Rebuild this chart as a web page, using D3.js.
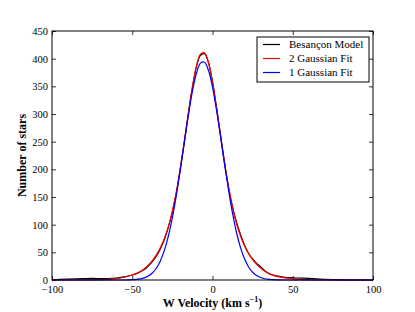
<!DOCTYPE html>
<html>
<head>
<meta charset="utf-8">
<script src="https://cdn.jsdelivr.net/npm/d3@7"></script>
<style>
  body { margin: 0; background: #fff; }
  text { font-family: "Liberation Serif", "DejaVu Serif", serif; }
</style>
</head>
<body>
<div id="chart"></div>
<script>
// values
var velocity = [-100, -95, -90, -85, -80, -75, -70, -65, -60, -55, -50,
  -47.5, -45, -42.5, -40, -37.5, -35, -32.5, -30, -27.5, -25, -22.5, -20,
  -17.5, -15, -12.5, -10, -7.5, -5, -2.5, 0,
  2.5, 5, 7.5, 10, 12.5, 15, 17.5, 20, 22.5, 25, 27.5, 30, 32.5, 35, 37.5, 40,
  45, 50, 55, 60, 65, 70, 75, 80, 85, 90, 95, 100];

var besancon = [0.5, 1, 1.5, 2, 2.5, 3, 2.5, 2.5, 3.5, 5.5, 9,
  11.5, 15, 19, 25, 33, 43, 56, 73, 95, 123, 158, 203,
  251, 302, 348, 385, 406, 409, 393, 358,
  312, 262, 212, 168, 132, 104, 82, 63, 48, 38, 30, 24, 17, 12, 9, 7.5,
  5, 4, 3.5, 3, 2, 1.2, 0.6, 0.2, 0, 0, 0, 0];

var twoGauss = [0, 0, 0, 0, 0.1, 0.2, 0.5, 1.2, 2.5, 5, 9,
  11.5, 15, 20.3, 26.8, 35, 45.3, 58.3, 75, 96.6, 124.4, 159.6, 202.1,
  250.6, 301.4, 348.9, 386.6, 408.3, 410.4, 392.4, 357.4,
  311.3, 260.7, 211.4, 167.6, 130.9, 101.7, 79, 61.3, 47.6, 36.8, 28.3, 21.4, 15.9, 11.7, 8.7, 6.6,
  4, 2.5, 1.3, 0.6, 0.2, 0.1, 0, 0, 0, 0, 0, 0];

var oneGauss = [0, 0, 0, 0, 0, 0, 0, 0, 0, 0, 0.5,
  1, 2, 3.9, 7.1, 12.6, 21.3, 34.5, 53.5, 79.4, 112.8, 153.5, 200,
  249.6, 298.2, 341.1, 373.7, 391.9, 393.6, 378.6, 348.6,
  307.4, 259.5, 209.8, 162.4, 120.4, 85.4, 58.1, 37.8, 23.5, 14, 8, 4.4, 2.3, 1.1, 0.6, 0.3,
  0, 0, 0, 0, 0, 0, 0, 0, 0, 0, 0, 0];

var seriesNames = ["Besan\u00e7on Model", "2 Gaussian Fit", "1 Gaussian Fit"];
var seriesColors = ["#000000", "#ff0000", "#0000ff"];

var xTicks = [-100, -50, 0, 50, 100];
var yTicks = [0, 50, 100, 150, 200, 250, 300, 350, 400, 450];

var svgWidth = 415;
var svgHeight = 312;

var margin = {
  top: 31,
  right: 42,
  bottom: 32,
  left: 52
};

var width = svgWidth - margin.left - margin.right;
var height = svgHeight - margin.top - margin.bottom;

var svg = d3.select("#chart")
  .append("svg")
  .attr("width", svgWidth)
  .attr("height", svgHeight);

var chartGroup = svg.append("g")
  .attr("transform", `translate(${margin.left}, ${margin.top})`);

var xScale = d3.scaleLinear()
  .domain([-100, 100])
  .range([0, width]);

var yScale = d3.scaleLinear()
  .domain([0, 450])
  .range([height, 0]);

var fmt = function(d) { return d < 0 ? "\u2212" + Math.abs(d) : String(d); };

// axes with inside ticks on all four sides
var bottomAxis = d3.axisBottom(xScale).tickValues(xTicks).tickSize(-4).tickPadding(6).tickFormat(fmt);
var leftAxis = d3.axisLeft(yScale).tickValues(yTicks).tickSize(-4).tickPadding(4);
var topAxis = d3.axisTop(xScale).tickValues(xTicks).tickSize(-4).tickFormat("");
var rightAxis = d3.axisRight(yScale).tickValues(yTicks).tickSize(-4).tickFormat("");

chartGroup.append("g")
  .attr("transform", `translate(0, ${height})`)
  .call(bottomAxis);
chartGroup.append("g").call(leftAxis);
chartGroup.append("g").call(topAxis);
chartGroup.append("g")
  .attr("transform", `translate(${width}, 0)`)
  .call(rightAxis);

chartGroup.selectAll(".domain").remove();
chartGroup.selectAll(".tick line").attr("stroke", "#000").attr("stroke-width", 0.8);
chartGroup.selectAll(".tick text")
  .attr("fill", "#000")
  .style("font-size", "10.5px")
  .style("font-family", "'Liberation Serif', serif");

// lines
var allSeries = [besancon, twoGauss, oneGauss];

var line = d3.line()
  .x((d, i) => xScale(velocity[i]))
  .y(d => yScale(d))
  .curve(d3.curveCatmullRom.alpha(0.5));

var plotArea = chartGroup.append("g");

allSeries.forEach(function(values, i) {
  plotArea.append("path")
    .datum(values)
    .attr("d", line)
    .attr("fill", "none")
    .attr("stroke", seriesColors[i])
    .attr("stroke-width", 1.2);
});

// frame
chartGroup.append("rect")
  .attr("width", width)
  .attr("height", height)
  .attr("fill", "none")
  .attr("stroke", "#000")
  .attr("stroke-width", 1);

// axis labels
var xLabel = svg.append("text")
  .attr("x", margin.left + width / 2)
  .attr("y", 307)
  .attr("text-anchor", "middle")
  .style("font-size", "12px")
  .style("font-weight", "bold");
xLabel.append("tspan").text("W Velocity (km s");
xLabel.append("tspan").attr("dy", -5).style("font-size", "8px").text("\u22121");
xLabel.append("tspan").attr("dy", 5).text(")");

svg.append("text")
  .attr("transform", `translate(26, ${margin.top + height / 2}) rotate(-90)`)
  .attr("text-anchor", "middle")
  .style("font-size", "12px")
  .style("font-weight", "bold")
  .text("Number of stars");

// legend
var legend = svg.append("g")
  .attr("transform", "translate(257, 37)");

legend.append("rect")
  .attr("width", 112)
  .attr("height", 45)
  .attr("fill", "#fff")
  .attr("stroke", "#000")
  .attr("stroke-width", 1);

seriesNames.forEach(function(name, i) {
  var yRow = 7.5 + i * 14;
  legend.append("line")
    .attr("x1", 6)
    .attr("x2", 23)
    .attr("y1", yRow)
    .attr("y2", yRow)
    .attr("stroke", seriesColors[i])
    .attr("stroke-width", 1.2);
  legend.append("text")
    .attr("x", 32)
    .attr("y", yRow)
    .attr("dy", "0.35em")
    .style("font-size", "11px")
    .text(name);
});
</script>
</body>
</html>
